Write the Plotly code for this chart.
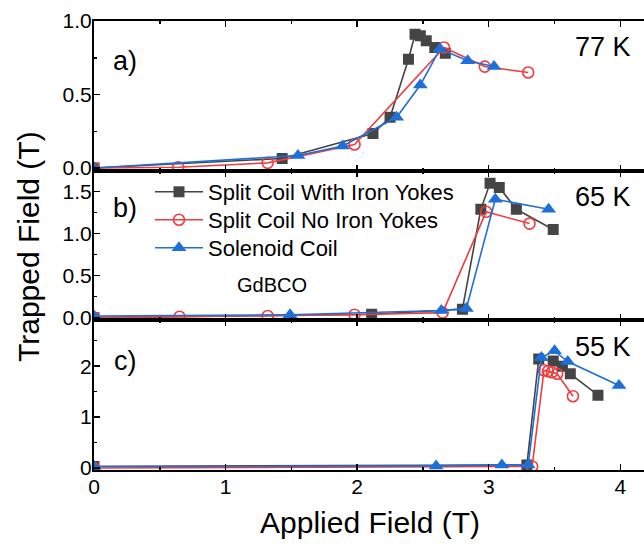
import plotly.graph_objects as go

# ---------------- data ----------------
# Panel a) 77 K
a_yoke_x = [0, 1.43, 2.12, 2.25, 2.39, 2.44, 2.48, 2.525, 2.59, 2.67]
a_yoke_y = [0.0, 0.065, 0.235, 0.345, 0.74, 0.91, 0.90, 0.865, 0.82, 0.78]
a_noyoke_x = [0, 0.64, 1.32, 1.98, 2.66, 2.97, 3.30]
a_noyoke_y = [0.0, 0.005, 0.035, 0.16, 0.82, 0.69, 0.65]
a_sol_x = [0, 1.55, 1.89, 2.30, 2.48, 2.63, 2.84, 3.04]
a_sol_y = [0.0, 0.085, 0.15, 0.345, 0.565, 0.81, 0.73, 0.69]

# Panel b) 65 K
b_yoke_x = [0, 2.11, 2.80, 2.94, 3.01, 3.08, 3.21, 3.49]
b_yoke_y = [0.0, 0.04, 0.10, 1.29, 1.60, 1.55, 1.29, 1.05]
b_noyoke_x = [0, 0.65, 1.32, 1.98, 2.65, 2.98, 3.31]
b_noyoke_y = [0.0, 0.01, 0.02, 0.035, 0.06, 1.26, 1.12]
b_sol_x = [0, 1.49, 2.64, 2.83, 3.05, 3.455]
b_sol_y = [0.02, 0.035, 0.085, 0.11, 1.41, 1.29]

# Panel c) 55 K
c_yoke_x = [0, 3.29, 3.38, 3.49, 3.56, 3.62, 3.83]
c_yoke_y = [0.03, 0.06, 2.14, 2.10, 2.00, 1.85, 1.43]
c_noyoke_x = [0, 3.33, 3.42, 3.45, 3.48, 3.52, 3.64]
c_noyoke_y = [0.0, 0.03, 1.92, 1.90, 1.88, 1.85, 1.41]
c_sol_x = [0, 2.60, 3.10, 3.30, 3.40, 3.50, 3.60, 3.99]
c_sol_y = [0.03, 0.04, 0.06, 0.06, 2.17, 2.30, 2.09, 1.62]

series_names = ["Split Coil With Iron Yokes", "Split Coil No Iron Yokes", "Solenoid Coil"]
panel_labels = ["a)", "b)", "c)"]
temp_labels = ["77 K", "65 K", "55 K"]
sample_label = "GdBCO"
x_title = "Applied Field (T)"
y_title = "Trapped Field (T)"

# ---------------- styling ----------------
FONT = "Liberation Sans, Arial, sans-serif"
COL_K = "#454545"
COL_R = "#F03C3C"
COL_B = "#1F6FDB"

W, H = 644, 547
ML, MR, MT, MB = 94, 0, 21, 77
PW = W - ML - MR
PH = H - MT - MB


def px2paper(px, py):
    return (px - ML) / PW, (H - MB - py) / PH


panels = [
    (a_yoke_x, a_yoke_y, a_noyoke_x, a_noyoke_y, a_sol_x, a_sol_y),
    (b_yoke_x, b_yoke_y, b_noyoke_x, b_noyoke_y, b_sol_x, b_sol_y),
    (c_yoke_x, c_yoke_y, c_noyoke_x, c_noyoke_y, c_sol_x, c_sol_y),
]
legend_ids = ["legend", "legend2", "legend3"]

fig = go.Figure()
styles = [
    (COL_K, "square", 11, 0),
    (COL_R, "circle-open", 11, 1.6),
    (COL_B, "triangle-up", 13, 0),
]
for p, data in enumerate(panels):
    xa = "x" if p == 0 else f"x{p+1}"
    ya = "y" if p == 0 else f"y{p+1}"
    for s in range(3):
        col, sym, msz, mlw = styles[s]
        fig.add_trace(go.Scatter(
            x=data[2 * s], y=data[2 * s + 1], mode="lines+markers",
            name=series_names[s], legendgroup=series_names[s],
            legend=legend_ids[s],
            showlegend=(p == 1),
            line=dict(color=col, width=1.6),
            marker=dict(symbol=sym, size=msz, color=col,
                        line=dict(color=col, width=mlw)),
            xaxis=xa, yaxis=ya,
        ))

y_ranges = [[-0.018, 1.0], [-0.032, 1.75], [-0.04, 2.9]]
y_dticks = [0.5, 0.5, 1]
y_formats = [".1f", ".1f", "d"]
domains = [[2 / 3, 1.0], [1 / 3, 2 / 3], [0.0, 1 / 3]]

axis_common = dict(showline=True, linecolor="black", linewidth=2,
                   ticks="inside", ticklen=6, tickwidth=1.5, tickcolor="black",
                   showgrid=False, zeroline=False, automargin=False,
                   tickfont=dict(family=FONT, size=21, color="black"))

layout = dict(
    width=W, height=H, margin=dict(l=ML, r=MR, t=MT, b=MB),
    plot_bgcolor="white", paper_bgcolor="white",
    font=dict(family=FONT, color="black"),
    showlegend=True, hovermode=False,
)
# one legend per series so each row can sit exactly where it is in the reference
legend_rows_px = [171, 199, 227]
for s, lid in enumerate(legend_ids):
    lx, ly = px2paper(150, legend_rows_px[s])
    layout[lid] = dict(x=lx, y=ly, xanchor="left", yanchor="top",
                       bgcolor="rgba(0,0,0,0)",
                       font=dict(family=FONT, size=22, color="black"),
                       itemwidth=48)

for p in range(3):
    xk = "xaxis" if p == 0 else f"xaxis{p+1}"
    yk = "yaxis" if p == 0 else f"yaxis{p+1}"
    ya = "y" if p == 0 else f"y{p+1}"
    xa = "x" if p == 0 else f"x{p+1}"
    layout[xk] = dict(axis_common, range=[0, 4.18], dtick=1, tick0=0,
                      mirror="ticks", anchor=ya,
                      showticklabels=(p == 2), ticklabelstandoff=-3,
                      minor=dict(ticks="inside", ticklen=3, tickwidth=1.5,
                                 dtick=0.5, tickcolor="black"),
                      **({} if p == 2 else {"matches": "x3"}))
    layout[yk] = dict(axis_common, range=y_ranges[p], dtick=y_dticks[p], tick0=0,
                      domain=domains[p], anchor=xa, tickformat=y_formats[p],
                      ticklabelstandoff=-4,
                      minor=dict(ticks="inside", ticklen=3, tickwidth=1.5,
                                 dtick=y_dticks[p] / 2, tickcolor="black"))
fig.update_layout(**layout)

anns = []
label_y = [61, 208, 361]
temp_y = [47, 197, 347]
for p in range(3):
    x, y = px2paper(125, label_y[p])
    anns.append(dict(text=panel_labels[p], x=x, y=y, xref="paper", yref="paper",
                     showarrow=False, xanchor="center", yanchor="middle",
                     font=dict(family=FONT, size=27, color="black")))
    x, y = px2paper(633, temp_y[p])
    anns.append(dict(text=temp_labels[p], x=x, y=y, xref="paper", yref="paper",
                     showarrow=False, xanchor="right", yanchor="middle",
                     font=dict(family=FONT, size=27, color="black")))
x, y = px2paper(272, 285)
anns.append(dict(text=sample_label, x=x, y=y, xref="paper", yref="paper",
                 showarrow=False, xanchor="center", yanchor="middle",
                 font=dict(family=FONT, size=20, color="black")))
x, y = px2paper(370, 522)
anns.append(dict(text=x_title, x=x, y=y, xref="paper", yref="paper",
                 showarrow=False, xanchor="center", yanchor="middle",
                 font=dict(family=FONT, size=30, color="black")))
x, y = px2paper(29, 247)
anns.append(dict(text=y_title, x=x, y=y, xref="paper", yref="paper",
                 showarrow=False, xanchor="center", yanchor="middle", textangle=-90,
                 font=dict(family=FONT, size=30, color="black")))
fig.update_layout(annotations=anns)

fig.write_html(
    "out.html",
    config={"displayModeBar": False, "staticPlot": True},
    post_script="document.body.style.margin='0';document.body.style.overflow='hidden';",
)
